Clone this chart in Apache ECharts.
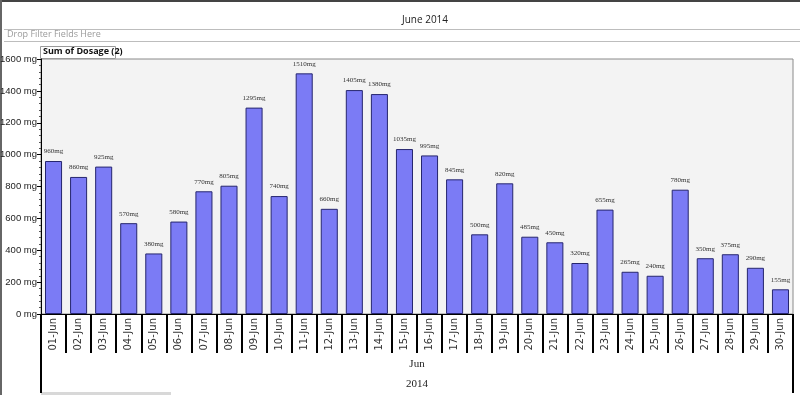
<!DOCTYPE html>
<html>
<head>
<meta charset="utf-8">
<script src="https://cdn.jsdelivr.net/npm/echarts@6/dist/echarts.min.js"></script>
<style>html,body{margin:0;padding:0;background:#fff;}#c{width:800px;height:395px;}</style>
</head>
<body>
<div id="c"></div>
<script>
var titleText = 'June 2014';
var filterText = 'Drop Filter Fields Here';
var seriesName = 'Sum of Dosage (2)';
var days = ['01-Jun','02-Jun','03-Jun','04-Jun','05-Jun','06-Jun','07-Jun','08-Jun','09-Jun','10-Jun',
            '11-Jun','12-Jun','13-Jun','14-Jun','15-Jun','16-Jun','17-Jun','18-Jun','19-Jun','20-Jun',
            '21-Jun','22-Jun','23-Jun','24-Jun','25-Jun','26-Jun','27-Jun','28-Jun','29-Jun','30-Jun'];
var dosage = [960, 860, 925, 570, 380, 580, 770, 805, 1295, 740,
              1510, 660, 1405, 1380, 1035, 995, 845, 500, 820, 485,
              450, 320, 655, 265, 240, 780, 350, 375, 290, 155];
var monthLabels = ['Jun'];
var yearLabels = ['2014'];
var yMin = 0, yMax = 1600, yStep = 200;

var chart = echarts.init(document.getElementById('c'), null, {renderer: 'canvas'});
chart.setOption({
  animation: false,
  backgroundColor: '#ffffff',
  title: {
    text: titleText, left: 397, top: 10,
    textStyle: {fontFamily: 'Open Sans', fontSize: 10, fontWeight: 'normal', color: '#222'}
  },
  grid: {
    left: 41, right: 7, top: 59, bottom: 81,
    containLabel: false, outerBoundsMode: 'none',
    show: true, backgroundColor: '#f3f3f3', borderColor: '#8a8a8a', borderWidth: 1
  },
  xAxis: [{
    type: 'category', data: days, position: 'bottom',
    axisLine: {lineStyle: {color: '#000', width: 1}},
    axisTick: {show: true, interval: 0, length: 39, lineStyle: {color: '#000', width: 2}},
    axisLabel: {interval: 0, rotate: 90, margin: 4, fontFamily: 'DejaVu Sans', fontSize: 10, color: '#333'}
  }, {
    type: 'category', data: monthLabels, position: 'bottom',
    axisLine: {show: false},
    axisTick: {show: true, length: 79, lineStyle: {color: '#000', width: 2}},
    axisLabel: {margin: 45, fontFamily: 'Liberation Serif', fontSize: 11, color: '#222'}
  }, {
    type: 'category', data: yearLabels, position: 'bottom',
    axisLine: {show: false}, axisTick: {show: false},
    axisLabel: {margin: 65, fontFamily: 'Liberation Serif', fontSize: 11, color: '#222'}
  }],
  yAxis: {
    type: 'value', min: yMin, max: yMax, interval: yStep,
    axisLine: {show: true, lineStyle: {color: '#000', width: 1}},
    axisTick: {show: true, length: 4, lineStyle: {color: '#000'}},
    minorTick: {show: true, splitNumber: 5, length: 2, lineStyle: {color: '#555'}},
    splitLine: {show: false},
    axisLabel: {formatter: function (v) { return String(v) + ' mg'; }, margin: 4,
                fontFamily: 'Liberation Sans', fontSize: 9.5, color: '#222'}
  },
  series: [{
    name: seriesName, type: 'bar', data: dosage, xAxisIndex: 0,
    barWidth: '68%',
    itemStyle: {color: '#7b7bf5', borderColor: '#26266e', borderWidth: 1},
    label: {show: true, position: 'top', distance: 6, formatter: '{c}mg',
            fontFamily: 'Liberation Serif', fontSize: 7, color: '#333'}
  }],
  graphic: [
    {type: 'rect', shape: {x: 0, y: 0, width: 800, height: 2}, style: {fill: '#444'}, silent: true},
    {type: 'rect', shape: {x: 0, y: 0, width: 2, height: 395}, style: {fill: '#666'}, silent: true},
    {type: 'line', shape: {x1: 4, y1: 29.5, x2: 800, y2: 29.5}, style: {stroke: '#bdbdbd', lineWidth: 1}, silent: true},
    {type: 'line', shape: {x1: 4, y1: 41.5, x2: 800, y2: 41.5}, style: {stroke: '#bdbdbd', lineWidth: 1}, silent: true},
    {type: 'text', left: 7, top: 30, style: {text: filterText, fontFamily: 'Open Sans', fontSize: 9, fill: '#9a9a9a'}, silent: true},
    {type: 'rect', shape: {x: 40.5, y: 46.5, width: 75, height: 12}, style: {fill: '#fff', stroke: '#9a9a9a', lineWidth: 1}, silent: true},
    {type: 'text', left: 43, top: 47, style: {text: seriesName, fontFamily: 'Open Sans', fontSize: 9, fontWeight: 'bold', fill: '#111'}, silent: true},
    {type: 'rect', shape: {x: 41, y: 392, width: 130, height: 3}, style: {fill: '#d8d8d8'}, silent: true}
  ]
});
</script>
</body>
</html>
